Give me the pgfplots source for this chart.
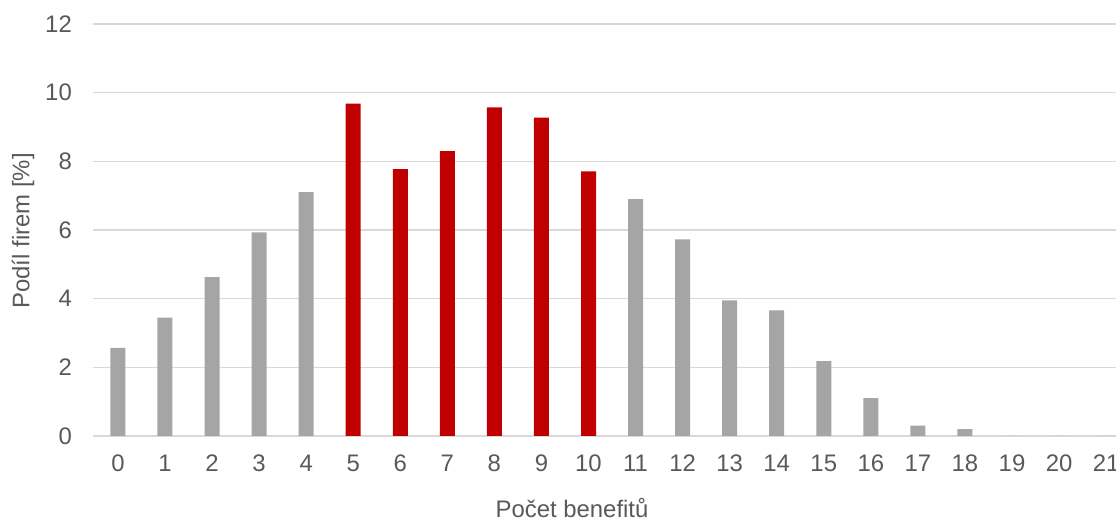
\documentclass[border=0pt]{standalone}
\usepackage{fontspec}
\setmainfont{Liberation Sans}
\usepackage{pgfplots}
\pgfplotsset{compat=1.18}
\definecolor{barGray}{HTML}{A5A5A5}
\definecolor{barRed}{HTML}{C00000}
\definecolor{gridGray}{HTML}{D9D9D9}
\definecolor{txtGray}{HTML}{595959}

\begin{document}
\begin{tikzpicture}
\path[use as bounding box] (0,0) rectangle (1116bp,519bp);
\begin{axis}[
  at={(93bp,83bp)}, anchor=south west,
  scale only axis, width=1023bp, height=412bp,
  xmin=-0.53, xmax=21.21, ymin=0, ymax=12,
  xtick={0,...,21}, ytick={0,2,...,12},
  ymajorgrids, grid style={gridGray, line width=1.5bp},
  axis line style={draw=none}, major tick length=0pt,
  tick label style={font=\fontsize{24}{28}\selectfont, text=txtGray},
  /pgf/number format/assume math mode=true,
  yticklabel style={anchor=east, inner sep=0pt, xshift=-21bp},
  xticklabel style={anchor=north, inner sep=0pt, yshift=-19bp},
  ybar, bar width=15bp,
]
% share of firms by number of benefits, outside the core range
\addplot[fill=barGray, draw=none, bar shift=0pt] coordinates {
  (0,2.57) (1,3.45) (2,4.63) (3,5.93) (4,7.10)
  (11,6.90) (12,5.73) (13,3.95) (14,3.66) (15,2.18)
  (16,1.10) (17,0.30) (18,0.20) (19,0) (20,0) (21,0)
};
% core range 5--10 highlighted in red
\addplot[fill=barRed, draw=none, bar shift=0pt] coordinates {
  (5,9.68) (6,7.77) (7,8.30) (8,9.57) (9,9.27) (10,7.71)
};
\end{axis}
\node[rotate=90, text=txtGray, font=\fontsize{24}{28}\selectfont, inner sep=0pt]
  at (23bp,288bp) {Podíl firem [\%]};
\node[anchor=base, text=txtGray, font=\fontsize{24}{28}\selectfont, inner sep=0pt]
  at (572bp,2bp) {Počet benefitů};
\end{tikzpicture}
\end{document}
